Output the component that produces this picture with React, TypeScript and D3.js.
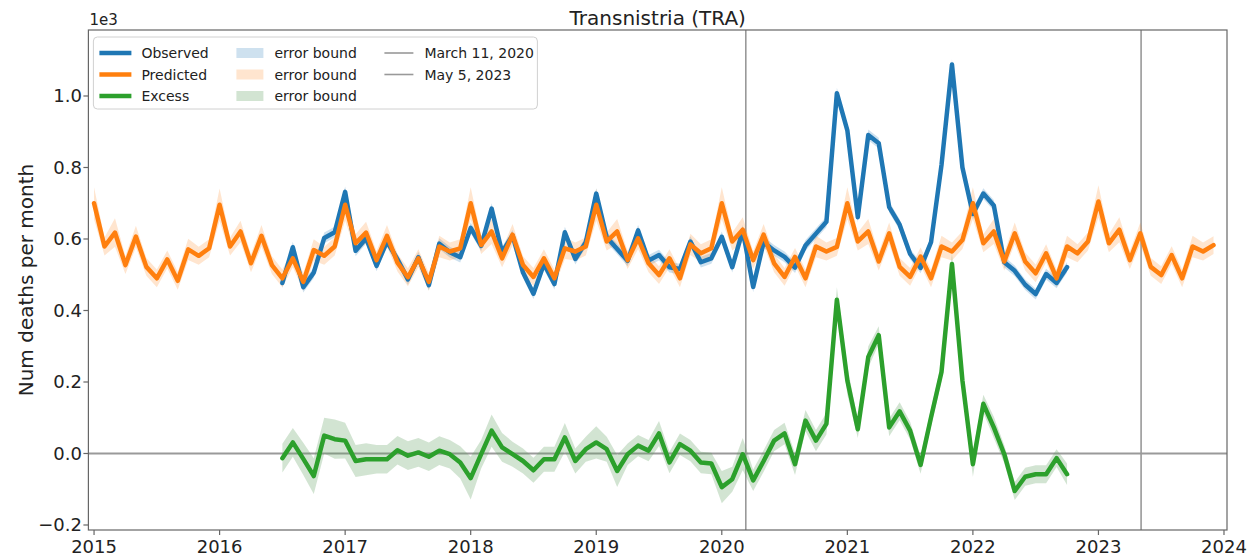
import React from "react";
import * as d3 from "d3";

// monthly values, in thousands of deaths (axis shows 1e3)
const predicted = [
  0.700, 0.579, 0.618, 0.527, 0.607, 0.522, 0.490, 0.543, 0.483, 0.571, 0.553, 0.574,
  0.696, 0.579, 0.621, 0.532, 0.609, 0.527, 0.490, 0.546, 0.480, 0.569, 0.553, 0.579,
  0.696, 0.588, 0.618, 0.541, 0.609, 0.534, 0.493, 0.546, 0.480, 0.579, 0.565, 0.574,
  0.700, 0.583, 0.621, 0.546, 0.612, 0.527, 0.494, 0.546, 0.490, 0.574, 0.565, 0.579,
  0.696, 0.593, 0.621, 0.541, 0.602, 0.532, 0.499, 0.546, 0.490, 0.585, 0.560, 0.574,
  0.700, 0.593, 0.626, 0.541, 0.612, 0.532, 0.494, 0.550, 0.490, 0.579, 0.565, 0.578,
  0.700, 0.593, 0.621, 0.537, 0.616, 0.522, 0.494, 0.551, 0.490, 0.579, 0.565, 0.597,
  0.700, 0.588, 0.621, 0.537, 0.616, 0.537, 0.504, 0.560, 0.490, 0.579, 0.560, 0.593,
  0.705, 0.588, 0.626, 0.541, 0.616, 0.522, 0.499, 0.555, 0.490, 0.579, 0.565, 0.583,
];
const predictedErr = [
  0.045, 0.025, 0.040, 0.025, 0.030, 0.025, 0.025, 0.025, 0.025, 0.030, 0.025, 0.025,
  0.045, 0.025, 0.030, 0.025, 0.030, 0.025, 0.025, 0.025, 0.025, 0.030, 0.025, 0.025,
  0.045, 0.025, 0.030, 0.025, 0.030, 0.025, 0.025, 0.025, 0.025, 0.030, 0.025, 0.025,
  0.045, 0.025, 0.035, 0.025, 0.030, 0.025, 0.025, 0.025, 0.025, 0.030, 0.025, 0.025,
  0.045, 0.025, 0.035, 0.025, 0.030, 0.025, 0.025, 0.025, 0.025, 0.030, 0.025, 0.025,
  0.045, 0.025, 0.035, 0.025, 0.030, 0.025, 0.025, 0.025, 0.025, 0.030, 0.025, 0.025,
  0.045, 0.025, 0.035, 0.025, 0.030, 0.025, 0.025, 0.025, 0.025, 0.030, 0.025, 0.025,
  0.045, 0.025, 0.035, 0.025, 0.030, 0.025, 0.025, 0.025, 0.025, 0.030, 0.025, 0.025,
  0.045, 0.025, 0.035, 0.025, 0.030, 0.025, 0.025, 0.025, 0.025, 0.030, 0.025, 0.025,
];

// observed / excess start July 2016 (month index 18)
const observedStart = 18;
const observed = [
  0.477, 0.577, 0.465, 0.506, 0.603, 0.619,
  0.732, 0.567, 0.602, 0.525, 0.593, 0.543, 0.487, 0.549, 0.471, 0.587, 0.563, 0.549,
  0.631, 0.581, 0.685, 0.563, 0.610, 0.506, 0.447, 0.530, 0.474, 0.619, 0.544, 0.591,
  0.727, 0.605, 0.572, 0.539, 0.624, 0.540, 0.555, 0.521, 0.516, 0.593, 0.535, 0.546,
  0.606, 0.521, 0.624, 0.466, 0.591, 0.568, 0.550, 0.520, 0.582, 0.615, 0.648, 1.008,
  0.904, 0.661, 0.891, 0.868, 0.689, 0.640, 0.558, 0.519, 0.591, 0.807, 1.088, 0.800,
  0.670, 0.727, 0.694, 0.535, 0.511, 0.472, 0.446, 0.502, 0.477, 0.521,
];
const excess = [
  -0.013, 0.031, -0.015, -0.063, 0.050, 0.040,
  0.036, -0.021, -0.016, -0.016, -0.016, 0.009, -0.006, 0.003, -0.009, 0.008, -0.002, -0.025,
  -0.069, -0.002, 0.064, 0.017, -0.002, -0.021, -0.047, -0.016, -0.016, 0.045, -0.021, 0.012,
  0.031, 0.012, -0.049, -0.002, 0.022, 0.008, 0.056, -0.025, 0.026, 0.008, -0.025, -0.028,
  -0.094, -0.072, -0.002, -0.075, -0.021, 0.036, 0.056, -0.030, 0.092, 0.036, 0.083, 0.430,
  0.204, 0.068, 0.270, 0.331, 0.073, 0.118, 0.064, -0.032, 0.101, 0.228, 0.530, 0.204,
  -0.030, 0.139, 0.073, -0.002, -0.105, -0.065, -0.058, -0.058, -0.013, -0.058,
];
const excessErr = [
  0.040, 0.040, 0.045, 0.050, 0.050, 0.055,
  0.050, 0.045, 0.045, 0.040, 0.040, 0.040, 0.040, 0.040, 0.040, 0.040, 0.040, 0.045,
  0.060, 0.040, 0.045, 0.040, 0.035, 0.035, 0.035, 0.035, 0.035, 0.040, 0.035, 0.035,
  0.045, 0.035, 0.045, 0.030, 0.030, 0.030, 0.035, 0.030, 0.030, 0.030, 0.030, 0.030,
  0.045, 0.035, 0.045, 0.030, 0.030, 0.030, 0.030, 0.030, 0.030, 0.030, 0.030, 0.035,
  0.040, 0.025, 0.030, 0.025, 0.025, 0.025, 0.025, 0.025, 0.025, 0.025, 0.030, 0.025,
  0.035, 0.025, 0.030, 0.025, 0.025, 0.025, 0.025, 0.025, 0.025, 0.030,
];
const observedErr = 0.015;

const yearTicks = [2015, 2016, 2017, 2018, 2019, 2020, 2021, 2022, 2023, 2024];
const yTicks = [-0.2, 0.0, 0.2, 0.4, 0.6, 0.8, 1.0];
const eventDates = [
  { label: "March 11, 2020", t: 2020 + 70 / 366 },
  { label: "May 5, 2023", t: 2023 + 124 / 365 },
];

const BLUE = "#1f77b4";
const ORANGE = "#ff7f0e";
const GREEN = "#2ca02c";
const GREEN_BAND = "#5f9f5f";

const W = 1259;
const H = 560;
const left = 88.4;
const right = 1227;
const top = 30;
const bottom = 530;
const font = "DejaVu Sans, sans-serif";

const monthT = (i: number) => 2015 + i / 12;

export default function App() {
  const x = d3.scaleLinear().domain([2014.955, 2024.024]).range([left, right]);
  const y = d3.scaleLinear().domain([-0.214, 1.1846]).range([bottom, top]);

  const predPts = predicted.map((v, i) => ({ t: monthT(i), v, e: predictedErr[i] }));
  const obsPts = observed.map((v, i) => ({ t: monthT(i + observedStart), v, e: observedErr }));
  const excPts = excess.map((v, i) => ({ t: monthT(i + observedStart), v, e: excessErr[i] }));

  type P = { t: number; v: number; e: number };
  const line = d3
    .line<P>()
    .x((d) => x(d.t))
    .y((d) => y(d.v));
  const band = d3
    .area<P>()
    .x((d) => x(d.t))
    .y0((d) => y(d.v - d.e))
    .y1((d) => y(d.v + d.e));

  const legendX = left + 5;
  const legendY = top + 7;
  const rowY = [legendY + 16, legendY + 37.5, legendY + 59];
  const legendFont = 14;

  return (
    <div>
      <style>{`body{margin:0;background:#fff}`}</style>
      <svg width={W} height={H} style={{ display: "block", fontFamily: font }}>
        <rect width={W} height={H} fill="#fff" />
        <defs>
          <clipPath id="plot">
            <rect x={left} y={top} width={right - left} height={bottom - top} />
          </clipPath>
        </defs>

        <g clipPath="url(#plot)">
          <line x1={left} x2={right} y1={y(0)} y2={y(0)} stroke="#9a9a9a" strokeWidth={2} />
          {eventDates.map((d) => (
            <line key={d.label} x1={x(d.t)} x2={x(d.t)} y1={top} y2={bottom} stroke="#999" strokeWidth={1.6} />
          ))}

          <path d={band(obsPts) || ""} fill={BLUE} fillOpacity={0.22} />
          <path d={band(predPts) || ""} fill={ORANGE} fillOpacity={0.2} />
          <path d={band(excPts) || ""} fill={GREEN_BAND} fillOpacity={0.28} />

          <path d={line(obsPts) || ""} fill="none" stroke={BLUE} strokeWidth={4.5} strokeLinejoin="round" strokeLinecap="round" />
          <path d={line(predPts) || ""} fill="none" stroke={ORANGE} strokeWidth={4.5} strokeLinejoin="round" strokeLinecap="round" />
          <path d={line(excPts) || ""} fill="none" stroke={GREEN} strokeWidth={4.5} strokeLinejoin="round" strokeLinecap="round" />
        </g>

        {/* axes frame */}
        <rect x={left} y={top} width={right - left} height={bottom - top} fill="none" stroke="#666" strokeWidth={1.2} />

        {yearTicks.map((t) => (
          <g key={t}>
            <line x1={x(t)} x2={x(t)} y1={bottom} y2={bottom + 5} stroke="#666" strokeWidth={1.2} />
            <text x={x(t)} y={bottom + 23} textAnchor="middle" fontSize={18} fill="#222">
              {t}
            </text>
          </g>
        ))}
        {yTicks.map((v) => (
          <g key={v}>
            <line x1={left - 5} x2={left} y1={y(v)} y2={y(v)} stroke="#666" strokeWidth={1.2} />
            <text x={left - 6.5} y={y(v) + 6.5} textAnchor="end" fontSize={18} fill="#222">
              {v < 0 ? "\u2212" + Math.abs(v).toFixed(1) : v.toFixed(1)}
            </text>
          </g>
        ))}

        <text x={left + 1} y={top - 5} fontSize={15} fill="#222">1e3</text>
        <text x={(left + right) / 2} y={25} textAnchor="middle" fontSize={20} fill="#222">
          Transnistria (TRA)
        </text>
        <text
          transform={`translate(33,${(top + bottom) / 2}) rotate(-90)`}
          textAnchor="middle"
          fontSize={20}
          fill="#222"
        >
          Num deaths per month
        </text>

        {/* legend */}
        <g>
          <rect x={legendX} y={legendY} width={444} height={72} rx={4} fill="#fff" fillOpacity={0.8} stroke="#d0d0d0" />
          {[
            { label: "Observed", c: BLUE },
            { label: "Predicted", c: ORANGE },
            { label: "Excess", c: GREEN },
          ].map((d, i) => (
            <g key={d.label}>
              <line x1={legendX + 6} x2={legendX + 38} y1={rowY[i]} y2={rowY[i]} stroke={d.c} strokeWidth={4.5} />
              <text x={legendX + 48} y={rowY[i] + 5} fontSize={legendFont} fill="#222">{d.label}</text>
            </g>
          ))}
          {[
            { c: BLUE, o: 0.22 },
            { c: ORANGE, o: 0.2 },
            { c: GREEN_BAND, o: 0.28 },
          ].map((d, i) => (
            <g key={i}>
              <rect x={legendX + 143} y={rowY[i] - 5} width={27} height={10} fill={d.c} fillOpacity={d.o} />
              <text x={legendX + 181} y={rowY[i] + 5} fontSize={legendFont} fill="#222">error bound</text>
            </g>
          ))}
          {eventDates.map((d, i) => (
            <g key={d.label}>
              <line x1={legendX + 291} x2={legendX + 320} y1={rowY[i]} y2={rowY[i]} stroke="#999" strokeWidth={1.6} />
              <text x={legendX + 331} y={rowY[i] + 5} fontSize={legendFont} fill="#222">{d.label}</text>
            </g>
          ))}
        </g>
      </svg>
    </div>
  );
}
